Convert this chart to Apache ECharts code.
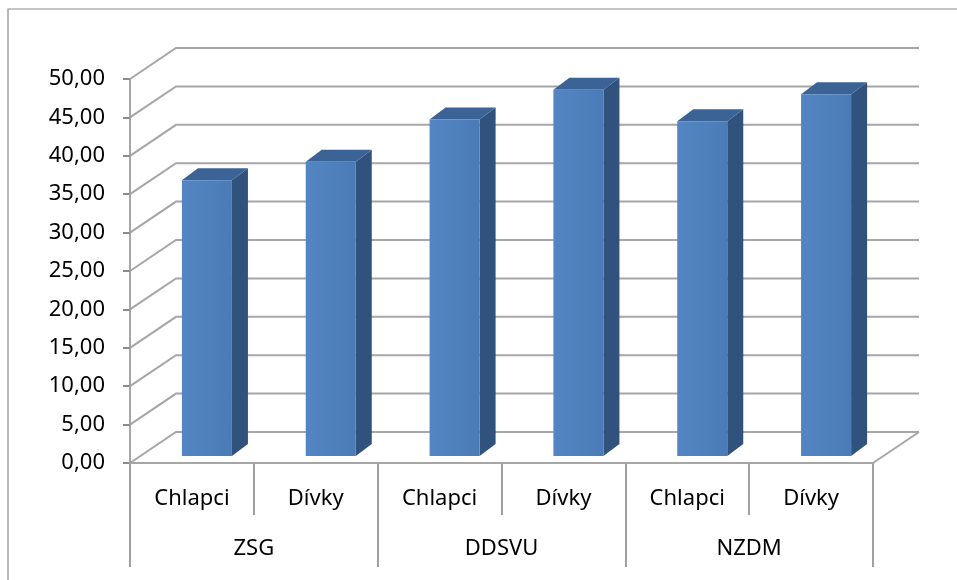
<!DOCTYPE html>
<html>
<head>
<meta charset="utf-8">
<script src="https://cdn.jsdelivr.net/npm/echarts@6/dist/echarts.min.js"></script>
<style>
  html, body { margin: 0; padding: 0; background: #ffffff; }
  #chart { width: 957px; height: 580px; }
</style>
</head>
<body>
<div id="chart"></div>
<script>
// Data
const groups = ['ZSG', 'DDSVU', 'NZDM'];
const categories = ['Chlapci', 'Dívky', 'Chlapci', 'Dívky', 'Chlapci', 'Dívky'];
const values = [35.9, 38.3, 43.8, 47.7, 43.6, 47.1];
const gridValues = [0, 5, 10, 15, 20, 25, 30, 35, 40, 45, 50];

// Oblique 3D look: offset of the back wall from the front plane (px)
const DEPTH = { dx: 46, dy: -31 };
// Front face of the columns sits a little behind the front plane
const BAR_FRONT = { dx: 15, dy: -7 };
// Column depth (side and top faces)
const BAR_SIDE = { dx: 16, dy: -12 };
const BAR_RATIO = 0.404;

const FONT = 'Noto Sans';
const GRID_COLOR = '#a6a6a6';

const chart = echarts.init(document.getElementById('chart'), null, { renderer: 'canvas' });

// Back wall gridlines, left-wall diagonals and floor outline
function renderGrid(params, api) {
  const v = api.value(1);
  const cs = params.coordSys;
  const y = api.coord([0, v])[1];
  const x0 = cs.x;
  const x1 = cs.x + cs.width;
  const style = { stroke: GRID_COLOR, lineWidth: 2, fill: null };
  const children = [{
    type: 'polyline',
    shape: { points: [[x0, y], [x0 + DEPTH.dx, y + DEPTH.dy], [x1 + DEPTH.dx, y + DEPTH.dy]] },
    style: style
  }];
  if (v === 0) {
    children.push({
      type: 'line',
      shape: { x1: x1, y1: y, x2: x1 + DEPTH.dx, y2: y + DEPTH.dy },
      style: style
    });
  }
  return { type: 'group', children: children };
}

// 3D column: front face, right side face and top face
function renderBar(params, api) {
  const i = api.value(0);
  const v = api.value(1);
  const band = api.size([1, 0])[0];
  const w = band * BAR_RATIO;
  const top = api.coord([i, v]);
  const base = api.coord([i, 0]);
  const xl = top[0] - w / 2 + BAR_FRONT.dx;
  const xr = xl + w;
  const yt = top[1] + BAR_FRONT.dy;
  const yb = base[1] + BAR_FRONT.dy;
  const sx = BAR_SIDE.dx, sy = BAR_SIDE.dy;
  return {
    type: 'group',
    children: [
      {
        type: 'polygon',
        shape: { points: [[xr, yt], [xr + sx, yt + sy], [xr + sx, yb + sy], [xr, yb]] },
        style: { fill: '#31527c' }
      },
      {
        type: 'polygon',
        shape: { points: [[xl, yt], [xl + sx, yt + sy], [xr + sx, yt + sy], [xr, yt]] },
        style: { fill: '#3b6396' }
      },
      {
        type: 'rect',
        shape: { x: xl, y: yt, width: w, height: yb - yt },
        style: {
          fill: new echarts.graphic.LinearGradient(0, 0, 1, 0, [
            { offset: 0, color: '#5285c2' },
            { offset: 0.5, color: '#4f81bd' },
            { offset: 1, color: '#4a7bb7' }
          ])
        }
      }
    ]
  };
}

const option = {
  animation: false,
  backgroundColor: '#ffffff',
  textStyle: { fontFamily: FONT },
  graphic: [{
    type: 'rect',
    silent: true,
    shape: { x: 8, y: 9, width: 1200, height: 1200 },
    style: { fill: null, stroke: '#8a8a8a', lineWidth: 1.2 }
  }],
  grid: { left: 130, right: 84, top: 79, bottom: 117, containLabel: false },
  xAxis: [
    {
      type: 'category',
      position: 'bottom',
      data: categories,
      axisLine: { show: true, lineStyle: { color: GRID_COLOR, width: 2 } },
      axisTick: { show: true, length: 52, interval: 0, lineStyle: { color: '#a0a0a0', width: 2 } },
      axisLabel: { interval: 0, margin: 25, fontSize: 22, color: '#000000', fontFamily: FONT },
      splitLine: { show: false }
    },
    {
      type: 'category',
      position: 'bottom',
      data: groups,
      axisLine: { show: false },
      axisTick: { show: true, length: 104, interval: 0, lineStyle: { color: '#a0a0a0', width: 2 } },
      axisLabel: { interval: 0, margin: 75, fontSize: 22, color: '#000000', fontFamily: FONT },
      splitLine: { show: false }
    }
  ],
  yAxis: {
    type: 'value',
    min: 0,
    max: 50,
    interval: 5,
    axisLine: { show: true, lineStyle: { color: GRID_COLOR, width: 2 } },
    axisTick: { show: true, length: 7, lineStyle: { color: '#8c8c8c', width: 2 } },
    axisLabel: {
      margin: 25,
      fontSize: 22,
      color: '#000000',
      fontFamily: FONT,
      formatter: function (v) { return v.toFixed(2).replace('.', ','); }
    },
    splitLine: { show: false }
  },
  series: [
    {
      type: 'custom',
      name: 'grid',
      xAxisIndex: 0,
      silent: true,
      clip: false,
      z: 1,
      renderItem: renderGrid,
      data: gridValues.map(function (v) { return [0, v]; })
    },
    {
      type: 'custom',
      name: 'values',
      xAxisIndex: 0,
      clip: false,
      z: 3,
      renderItem: renderBar,
      data: values.map(function (v, i) { return [i, v]; })
    }
  ]
};

chart.setOption(option);
</script>
</body>
</html>
